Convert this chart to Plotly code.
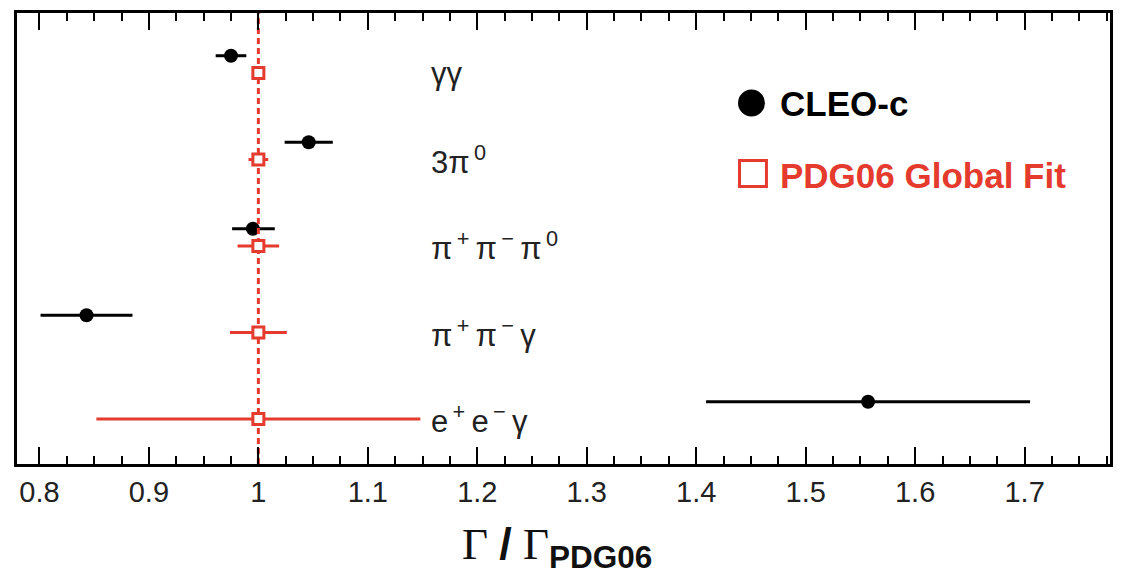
import plotly.graph_objects as go

# ---------------- data ----------------
channels = ["γγ", "3π<sup>\u20090</sup>", "π<sup>\u2009+</sup>\u2009π<sup>\u2009−</sup>\u2009π<sup>\u20090</sup>",
            "π<sup>\u2009+</sup>\u2009π<sup>\u2009−</sup>\u2009γ", "e<sup>\u2009+</sup>\u2009e<sup>\u2009−</sup>\u2009γ"]
cleo_val = [0.975, 1.046, 0.995, 0.843, 1.557]
cleo_err_lo = [0.014, 0.022, 0.019, 0.042, 0.148]
cleo_err_hi = [0.014, 0.022, 0.020, 0.042, 0.148]
pdg_val = [1.0, 1.0, 1.0, 1.0, 1.0]
pdg_err = [0.005, 0.009, 0.019, 0.026, 0.148]
ref_value = 1.0
x_ticks = [0.8, 0.9, 1.0, 1.1, 1.2, 1.3, 1.4, 1.5, 1.6, 1.7]
x_tick_text = ["0.8", "0.9", "1", "1.1", "1.2", "1.3", "1.4", "1.5", "1.6", "1.7"]

RED = "#e53b2f"
n = len(channels)
row_pos = [n - i for i in range(n)]          # 5,4,3,2,1
cleo_offset = 0.2
cleo_y = [r + cleo_offset for r in row_pos]
y_range = [0.48, 5.694]
x_range = [0.7795, 1.778]

fig = go.Figure()

fig.add_trace(go.Scatter(
    x=cleo_val, y=cleo_y, mode="markers",
    marker=dict(symbol="circle", size=14, color="black"),
    error_x=dict(type="data", symmetric=False, array=cleo_err_hi,
                 arrayminus=cleo_err_lo, color="black", thickness=3, width=0),
    showlegend=False, hoverinfo="skip"))

fig.add_trace(go.Scatter(
    x=[ref_value, ref_value], y=y_range, mode="lines",
    line=dict(color=RED, width=3, dash="6px,4px"),
    showlegend=False, hoverinfo="skip"))

fig.add_trace(go.Scatter(
    x=pdg_val, y=row_pos, mode="markers",
    marker=dict(symbol="square", size=11, color="white",
                line=dict(color=RED, width=3)),
    error_x=dict(type="data", array=pdg_err, color=RED, thickness=3, width=0),
    showlegend=False, hoverinfo="skip"))

# channel labels
for lab, r in zip(channels, row_pos):
    fig.add_annotation(x=(430 - 17) / 1096, xref="paper", y=r, yref="y",
                       text=lab, showarrow=False, xanchor="left", yanchor="middle",
                       font=dict(family="Liberation Sans", size=31, color="#222"))

# legend (drawn manually)
def px2paper_x(px):
    return (px - 17) / 1096

def px2paper_y(py):
    return (464 - py) / 451

fig.add_shape(type="circle", xref="paper", yref="paper",
              x0=px2paper_x(740), x1=px2paper_x(767),
              y0=px2paper_y(116.5), y1=px2paper_y(89.5),
              fillcolor="black", line=dict(color="black", width=0))
fig.add_shape(type="rect", xref="paper", yref="paper",
              x0=px2paper_x(741.5), x1=px2paper_x(768.5),
              y0=px2paper_y(186.5), y1=px2paper_y(160.5),
              fillcolor="rgba(0,0,0,0)", line=dict(color=RED, width=3))
fig.add_annotation(x=px2paper_x(780), y=px2paper_y(103), xref="paper", yref="paper",
                   text="<b>CLEO-c</b>", showarrow=False, xanchor="left", yanchor="middle",
                   font=dict(family="Liberation Sans", size=35, color="black"))
fig.add_annotation(x=px2paper_x(780), y=px2paper_y(175), xref="paper", yref="paper",
                   text="<b>PDG06 Global Fit</b>", showarrow=False, xanchor="left",
                   yanchor="middle",
                   font=dict(family="Liberation Sans", size=35, color=RED))

# axis title
fig.add_annotation(
    x=px2paper_x(558), y=px2paper_y(546), xref="paper", yref="paper",
    text=("Γ <span style='font-family:Liberation Sans'><b>/</b></span> Γ"
          "<sub><span style='font-family:Liberation Sans'><b>PDG06</b></span></sub>"),
    showarrow=False, xanchor="center", yanchor="middle",
    font=dict(family="Liberation Serif", size=45, color="#111"))

fig.update_layout(
    width=1123, height=578,
    margin=dict(l=17, r=10, t=13, b=114),
    paper_bgcolor="white", plot_bgcolor="white",
    showlegend=False,
    xaxis=dict(range=x_range, tickvals=x_ticks, ticktext=x_tick_text,
               ticks="inside", ticklen=17, tickwidth=2, tickcolor="black",
               showline=True, linewidth=3, linecolor="black", mirror="allticks",
               showgrid=False, zeroline=False,
               tickfont=dict(family="Liberation Sans", size=29, color="#222"),
               minor=dict(dtick=0.025, tick0=0.8, ticks="inside", ticklen=8,
                          tickwidth=2, tickcolor="black", showgrid=False)),
    yaxis=dict(range=y_range, showticklabels=False, ticks="",
               showline=True, linewidth=3, linecolor="black", mirror=True,
               showgrid=False, zeroline=False),
)

fig.write_html("out.html")
